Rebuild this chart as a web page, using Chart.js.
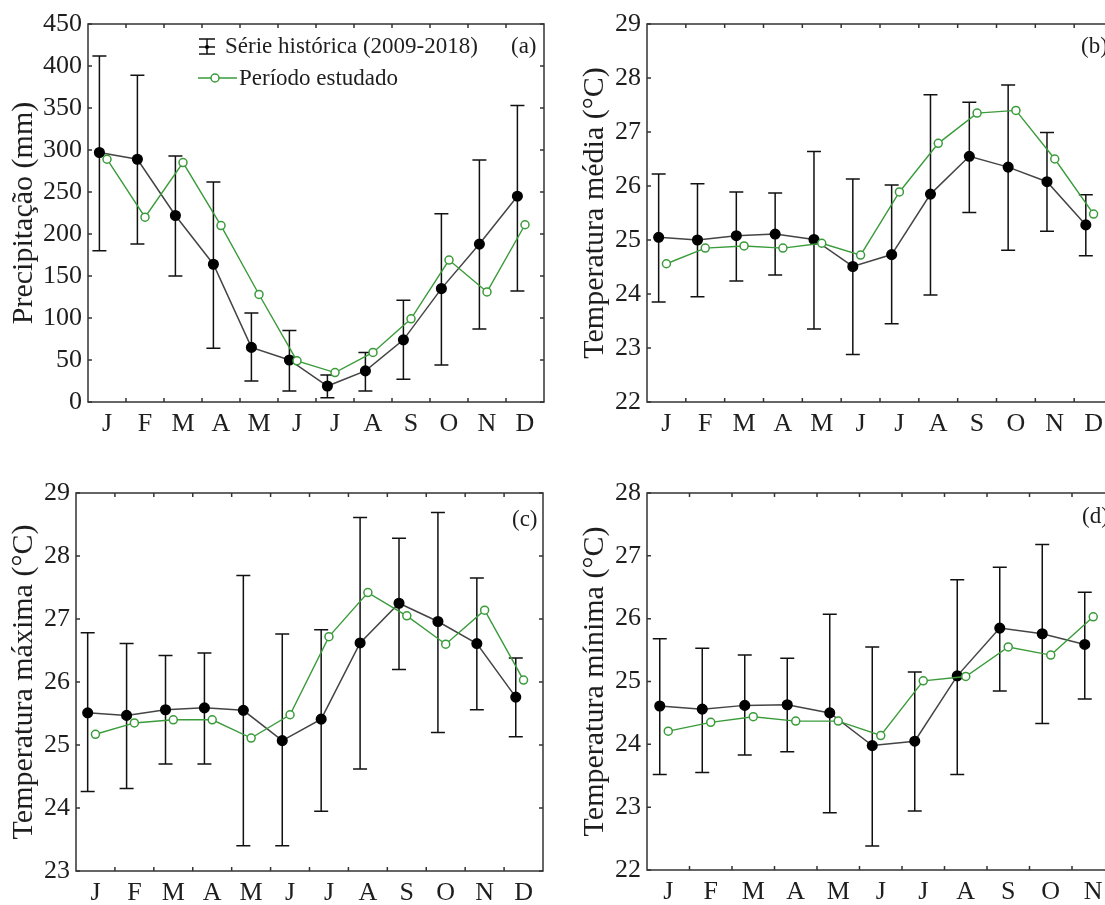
<!DOCTYPE html>
<html>
<head>
<meta charset="utf-8">
<script src="https://cdn.jsdelivr.net/npm/chart.js@4.4.1/dist/chart.umd.min.js"></script>
<style>
  html, body { margin: 0; padding: 0; background: #fff; width: 1105px; height: 905px; overflow: hidden; position: relative; }
  canvas { position: absolute; }
</style>
</head>
<body>
<canvas id="precipitacao" width="560" height="450" style="left:0;top:0"></canvas>
<canvas id="tempMedia" width="570" height="450" style="left:560px;top:0"></canvas>
<canvas id="tempMaxima" width="560" height="460" style="left:0;top:455px"></canvas>
<canvas id="tempMinima" width="620" height="460" style="left:560px;top:455px"></canvas>
<script>
const meses = ["J", "F", "M", "A", "M", "J", "J", "A", "S", "O", "N", "D"];

// (a) Precipitação (mm)
const precMedia = [297, 289, 222, 164, 65, 50, 19, 37, 74, 135, 188, 245];
const precMin = [180, 188, 150, 64, 25, 13, 5, 13, 27, 44, 87, 132];
const precMax = [412, 389, 293, 262, 106, 85, 32, 59, 121, 224, 288, 353];
const precEstudo = [289, 220, 285, 210, 128, 49, 35, 59, 99, 169, 131, 211];

// (b) Temperatura média (°C)
const tmedMedia = [25.05, 25.00, 25.08, 25.11, 25.01, 24.51, 24.73, 25.85, 26.55, 26.35, 26.08, 25.28];
const tmedMin = [23.85, 23.95, 24.24, 24.35, 23.35, 22.88, 23.45, 23.98, 25.51, 24.81, 25.16, 24.71];
const tmedMax = [26.22, 26.04, 25.89, 25.87, 26.64, 26.13, 26.02, 27.69, 27.55, 27.87, 26.99, 25.84];
const tmedEstudo = [24.56, 24.85, 24.89, 24.85, 24.94, 24.72, 25.89, 26.79, 27.35, 27.40, 26.50, 25.48];

// (c) Temperatura máxima (°C)
const tmaxMedia = [25.51, 25.47, 25.56, 25.59, 25.55, 25.07, 25.41, 26.62, 27.25, 26.96, 26.61, 25.76];
const tmaxMin = [24.26, 24.31, 24.70, 24.70, 23.40, 23.40, 23.95, 24.62, 26.20, 25.20, 25.56, 25.13];
const tmaxMax = [26.78, 26.61, 26.42, 26.46, 27.69, 26.76, 26.83, 28.61, 28.28, 28.69, 27.65, 26.38];
const tmaxEstudo = [25.17, 25.35, 25.40, 25.40, 25.11, 25.48, 26.72, 27.42, 27.05, 26.60, 27.14, 26.03];

// (d) Temperatura mínima (°C) - dezembro fica fora do recorte
const tminMedia = [24.61, 24.56, 24.62, 24.63, 24.50, 23.98, 24.05, 25.09, 25.85, 25.76, 25.59, null];
const tminMin = [23.52, 23.55, 23.83, 23.88, 22.91, 22.38, 22.94, 23.52, 24.85, 24.33, 24.72, null];
const tminMax = [25.68, 25.53, 25.42, 25.37, 26.07, 25.55, 25.15, 26.62, 26.82, 27.18, 26.42, null];
const tminEstudo = [24.21, 24.35, 24.44, 24.37, 24.37, 24.14, 25.01, 25.08, 25.55, 25.42, 26.03, null];

const OFF_HIST = 0.3;   // posição da série histórica dentro do mês
const OFF_ESTUDO = 0.5; // posição do período estudado
const VERDE = "#3a9b3a";
const FONTE = "'Liberation Serif', 'Times New Roman', serif";

Chart.defaults.font.family = FONTE;
Chart.defaults.color = "#1e1e1e";

function pontos(valores, off) {
    return valores.map((v, i) => ({ x: i + off, y: v }));
}

function criarPainel(id, cfg) {
    const plugin = {
        id: "moldura_" + id,
        beforeDatasetsDraw(chart) { // barras de erro
            const { ctx, scales: { x, y } } = chart;
            ctx.save();
            ctx.strokeStyle = "#111";
            ctx.lineWidth = 1.5;
            cfg.min.forEach((lo, i) => {
                if (lo == null) return;
                const px = x.getPixelForValue(i + OFF_HIST);
                const y1 = y.getPixelForValue(lo);
                const y2 = y.getPixelForValue(cfg.max[i]);
                ctx.beginPath();
                ctx.moveTo(px, y1); ctx.lineTo(px, y2);
                ctx.moveTo(px - 7, y1); ctx.lineTo(px + 7, y1);
                ctx.moveTo(px - 7, y2); ctx.lineTo(px + 7, y2);
                ctx.stroke();
            });
            ctx.restore();
        },
        afterDraw(chart) {
            const { ctx, chartArea: a, scales: { x, y } } = chart;
            ctx.save();
            ctx.strokeStyle = "#333";
            ctx.lineWidth = 1.5;
            ctx.strokeRect(a.left, a.top, a.right - a.left, a.bottom - a.top);
            // marcas internas
            ctx.beginPath();
            for (let i = 1; i < meses.length; i++) {
                const px = x.getPixelForValue(i);
                ctx.moveTo(px, a.bottom); ctx.lineTo(px, a.bottom - 4);
                ctx.moveTo(px, a.top); ctx.lineTo(px, a.top + 4);
            }
            y.ticks.forEach(t => {
                const py = y.getPixelForValue(t.value);
                ctx.moveTo(a.left, py); ctx.lineTo(a.left + 4, py);
                ctx.moveTo(a.right, py); ctx.lineTo(a.right - 4, py);
            });
            ctx.stroke();

            ctx.fillStyle = "#1e1e1e";
            ctx.font = "23px " + FONTE;
            ctx.textBaseline = "middle";
            ctx.fillText(cfg.letra, cfg.letraX, cfg.letraY);

            if (cfg.legenda) {
                // Série histórica: símbolo de barra de erro
                ctx.strokeStyle = "#111";
                ctx.beginPath();
                ctx.moveTo(207, 39); ctx.lineTo(207, 54);
                ctx.moveTo(199, 39); ctx.lineTo(215, 39);
                ctx.moveTo(199, 54); ctx.lineTo(215, 54);
                ctx.moveTo(199, 47); ctx.lineTo(215, 47);
                ctx.stroke();
                ctx.fillStyle = "#000";
                ctx.beginPath(); ctx.arc(207, 47, 2, 0, Math.PI * 2); ctx.fill();
                // Período estudado
                ctx.strokeStyle = VERDE;
                ctx.beginPath(); ctx.moveTo(198, 78); ctx.lineTo(237, 78); ctx.stroke();
                ctx.fillStyle = "#fff";
                ctx.beginPath(); ctx.arc(215, 78, 4, 0, Math.PI * 2); ctx.fill(); ctx.stroke();
                ctx.fillStyle = "#1e1e1e";
                ctx.fillText("Série histórica (2009-2018)", 225, 47);
                ctx.fillText("Período estudado", 239, 79);
            }
            ctx.restore();
        }
    };

    return new Chart(document.getElementById(id), {
        type: "line",
        data: {
            datasets: [{
                label: "Período estudado",
                data: pontos(cfg.estudo, OFF_ESTUDO),
                borderColor: VERDE,
                borderWidth: 1.4,
                pointRadius: 4,
                pointBorderWidth: 1.5,
                pointBackgroundColor: "#fff",
                pointBorderColor: VERDE,
                tension: 0
            }, {
                label: "Série histórica (2009-2018)",
                data: pontos(cfg.media, OFF_HIST),
                borderColor: "#444",
                borderWidth: 1.5,
                pointRadius: 4.8,
                pointBackgroundColor: "#000",
                pointBorderColor: "#000",
                tension: 0
            }]
        },
        options: {
            responsive: false,
            animation: false,
            events: [],
            clip: false,
            layout: { padding: cfg.padding },
            plugins: { legend: { display: false }, tooltip: { enabled: false } },
            scales: {
                x: {
                    type: "linear",
                    min: 0,
                    max: 12,
                    grid: { display: false, drawTicks: false },
                    border: { display: false },
                    afterBuildTicks: s => { s.ticks = meses.map((m, i) => ({ value: i + 0.5 })); },
                    afterFit: s => { s.height = 40; },
                    ticks: {
                        autoSkip: false,
                        maxRotation: 0,
                        padding: 7,
                        font: { size: 26 },
                        callback: v => meses[Math.floor(v)]
                    }
                },
                y: {
                    min: cfg.yMin,
                    max: cfg.yMax,
                    grid: { display: false, drawTicks: false },
                    border: { display: false },
                    afterFit: s => { s.width = cfg.yLargura; },
                    ticks: { stepSize: cfg.passo, padding: 6, font: { size: 26 } },
                    title: {
                        display: true,
                        text: cfg.titulo,
                        font: { size: 30, lineHeight: 1 },
                        padding: { top: 0, bottom: 0 },
                        color: "#1e1e1e"
                    }
                }
            }
        },
        plugins: [plugin]
    });
}

criarPainel("precipitacao", {
    media: precMedia, min: precMin, max: precMax, estudo: precEstudo,
    yMin: 0, yMax: 450, passo: 50, titulo: "Precipitação (mm)",
    padding: { left: 9, top: 24, right: 16, bottom: 8 }, yLargura: 79,
    letra: "(a)", letraX: 511, letraY: 47, legenda: true
});

criarPainel("tempMedia", {
    media: tmedMedia, min: tmedMin, max: tmedMax, estudo: tmedEstudo,
    yMin: 22, yMax: 29, passo: 1, titulo: "Temperatura média (°C)",
    padding: { left: 20, top: 24, right: 17, bottom: 8 }, yLargura: 67,
    letra: "(b)", letraX: 521, letraY: 47
});

criarPainel("tempMaxima", {
    media: tmaxMedia, min: tmaxMin, max: tmaxMax, estudo: tmaxEstudo,
    yMin: 23, yMax: 29, passo: 1, titulo: "Temperatura máxima (°C)",
    padding: { left: 9, top: 38, right: 17, bottom: 4 }, yLargura: 67,
    letra: "(c)", letraX: 512, letraY: 65
});

criarPainel("tempMinima", {
    media: tminMedia, min: tminMin, max: tminMax, estudo: tminEstudo,
    yMin: 22, yMax: 28, passo: 1, titulo: "Temperatura mínima (°C)",
    padding: { left: 20, top: 38, right: 23, bottom: 5 }, yLargura: 67,
    letra: "(d)", letraX: 522, letraY: 62
});
</script>
</body>
</html>
